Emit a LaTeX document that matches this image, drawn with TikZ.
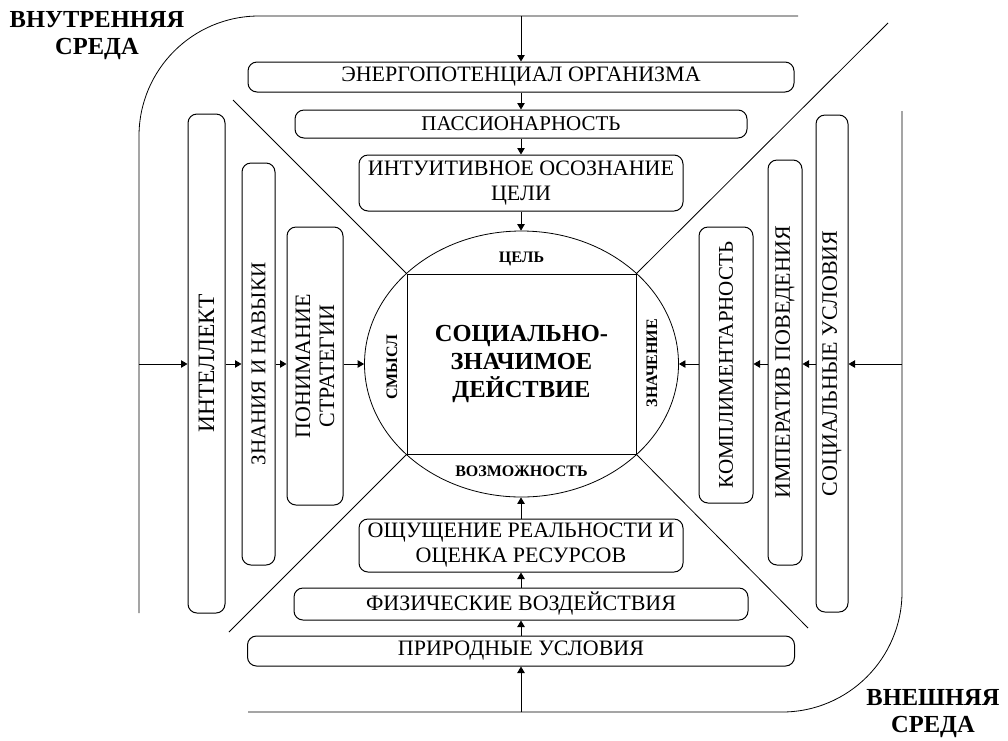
\documentclass[tikz,border=0pt]{standalone}
\usepackage{fontspec}
\setmainfont{Liberation Serif}
\usetikzlibrary{arrows.meta,shapes.geometric}
\begin{document}
\begin{tikzpicture}[x=1pt,y=-1pt,
  line/.style={line width=0.8pt},
  box/.style={draw, line width=1pt, rounded corners=9pt, inner sep=0pt, align=center, font=\fontsize{22}{25}\selectfont},
  arr/.style={line width=0.8pt, -{Triangle[length=6.5pt,width=7.5pt]}},
  lab/.style={font=\bfseries\fontsize{16}{18}\selectfont, inner sep=0pt},
  corner/.style={font=\bfseries\fontsize{24.5}{27}\selectfont, align=center, inner sep=0pt},
]
\useasboundingbox (0,0) rectangle (1008,740);
% frames
\draw[line, rounded corners=120pt] (798,16) -- (139,16) -- (139,613);
\draw[line, rounded corners=120pt] (248,712) -- (902,712) -- (902,111);
\coordinate (ct) at (521,16);
\coordinate (cb) at (521,712);
\coordinate (cl) at (139,364);
\coordinate (cr) at (902,364);
% center
\node[draw, ellipse, line width=0.8pt, minimum width=314pt, minimum height=266pt, inner sep=0pt] (ell) at (521.5,364) {};
\node[draw, line width=1pt, minimum width=229pt, minimum height=180pt, inner sep=0pt, align=center, font=\bfseries\fontsize{24.5}{28}\selectfont] (sq) at (521.5,364) {СОЦИАЛЬНО-\\ЗНАЧИМОЕ\\ДЕЙСТВИЕ};
\node[lab] (goal) at (521.5,259) {ЦЕЛЬ};
\node[lab] (poss) at (521.5,471) {ВОЗМОЖНОСТЬ};
\node[lab, rotate=90] (sense) at (392,367) {СМЫСЛ};
\node[lab, rotate=90] (mean) at (652,363) {ЗНАЧЕНИЕ};
% top boxes
\node[box, minimum width=546pt, minimum height=30pt] (en) at (521,77) {ЭНЕРГОПОТЕНЦИАЛ ОРГАНИЗМА};
\node[box, minimum width=452pt, minimum height=28pt, font=\fontsize{21}{25}\selectfont] (pa) at (521,124) {ПАССИОНАРНОСТЬ};
\node[box, minimum width=324pt, minimum height=56pt] (in) at (521,183) {ИНТУИТИВНОЕ ОСОЗНАНИЕ\\ЦЕЛИ};
% bottom boxes
\node[box, minimum width=324pt, minimum height=53pt] (os) at (521,545.5) {ОЩУЩЕНИЕ РЕАЛЬНОСТИ И\\ОЦЕНКА РЕСУРСОВ};
\node[box, minimum width=454pt, minimum height=32pt] (fi) at (521,604) {ФИЗИЧЕСКИЕ ВОЗДЕЙСТВИЯ};
\node[box, minimum width=547pt, minimum height=30pt] (pr) at (521,651) {ПРИРОДНЫЕ УСЛОВИЯ};
% left boxes
\node[box, rotate=90, minimum width=499pt, minimum height=37pt, font=\fontsize{23.5}{26}\selectfont] (it) at (206.5,363.5) {ИНТЕЛЛЕКТ};
\node[box, rotate=90, minimum width=402pt, minimum height=33pt, font=\fontsize{21}{25}\selectfont] (zn) at (258.5,364) {ЗНАНИЯ И НАВЫКИ};
\node[box, rotate=90, minimum width=278pt, minimum height=56pt, font=\fontsize{22}{24}\selectfont] (po) at (315,366) {ПОНИМАНИЕ\\СТРАТЕГИИ};
% right boxes
\node[box, rotate=90, minimum width=276pt, minimum height=54pt, font=\fontsize{21}{25}\selectfont] (ko) at (726,365) {КОМПЛИМЕНТАРНОСТЬ};
\node[box, rotate=90, minimum width=405pt, minimum height=34pt] (im) at (785,362.5) {ИМПЕРАТИВ ПОВЕДЕНИЯ};
\node[box, rotate=90, minimum width=497pt, minimum height=32pt] (so) at (832,363.5) {СОЦИАЛЬНЫЕ УСЛОВИЯ};
% diagonals
\coordinate (dtl) at (233,100);
\coordinate (dtr) at (888,23);
\coordinate (dbl) at (229,632);
\coordinate (dbr) at (808,628);
\draw[line] (dtl) -- (sq.north west);
\draw[line] (dtr) -- (sq.north east);
\draw[line] (dbl) -- (sq.south west);
\draw[line] (dbr) -- (sq.south east);
% arrows top
\draw[arr] (ct) -- (ct |- en.north);
\draw[arr] (en.south) -- (pa.north);
\draw[arr] (pa.south) -- (in.north);
\draw[arr] (in.south) -- (in.south |- ell.north);
% arrows bottom
\draw[arr] (cb) -- (cb |- pr.south);
\draw[arr] (pr.north) -- (fi.south);
\draw[arr] (fi.north) -- (os.south);
\draw[arr] (os.north) -- (os.north |- ell.south);
% arrows left
\draw[arr] (cl) -- (cl -| it.north);
\draw[arr] (cl -| it.south) -- (cl -| zn.north);
\draw[arr] (cl -| zn.south) -- (cl -| po.north);
\draw[arr] (cl -| po.south) -- (cl -| ell.west);
% arrows right
\draw[arr] (cr) -- (cr -| so.south);
\draw[arr] (cr -| so.north) -- (cr -| im.south);
\draw[arr] (cr -| im.north) -- (cr -| ko.south);
\draw[arr] (cr -| ko.north) -- (cr -| ell.east);
% corner labels
\node[corner] (inner) at (97,35.5) {ВНУТРЕННЯЯ\\СРЕДА};
\node[corner] (outer) at (933,714) {ВНЕШНЯЯ\\СРЕДА};
\end{tikzpicture}
\end{document}
